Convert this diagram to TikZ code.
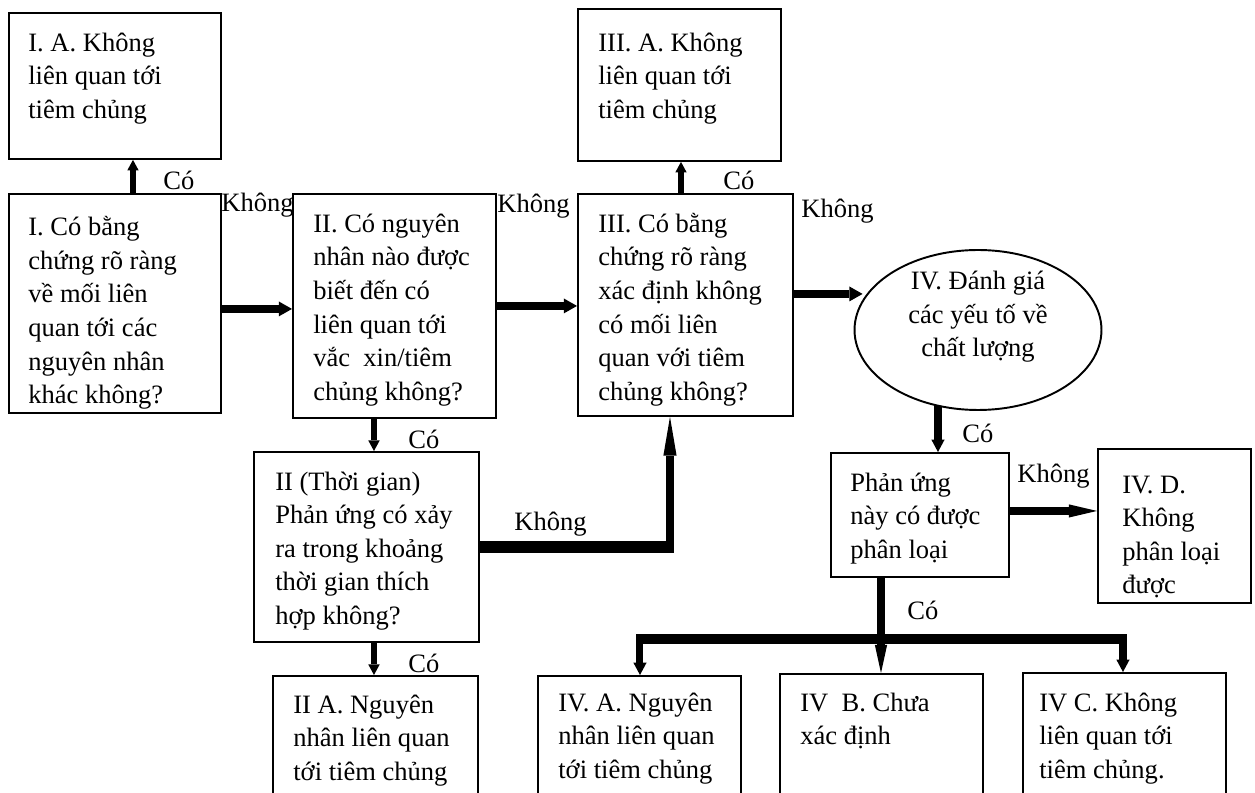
\documentclass[tikz,border=0pt]{standalone}
\usepackage{fontspec}
\setmainfont{Liberation Serif}
\usetikzlibrary{arrows.meta,shapes.geometric}
\newcommand\diagfont{\fontsize{15.1pt}{19.1pt}\selectfont}
\begin{document}
\begin{tikzpicture}[x=0.02cm,y=-0.02cm,
  box/.style={draw, line width=1.1pt, rectangle, inner sep=0pt, anchor=north west},
  oval/.style={draw, line width=1.1pt, ellipse, inner sep=0pt},
  txt/.style={inner sep=0pt, anchor=north west, align=left, font=\diagfont},
  lbl/.style={inner sep=0pt, anchor=base west, font=\diagfont},
  arrs/.style={line width=3.4pt, -{Triangle[length=6pt,width=6.5pt,line width=0pt]}},
  arr/.style={line width=4.5pt, -{Triangle[length=7.5pt,width=8.5pt,line width=0pt]}},
  arrm/.style={line width=4pt, -{Triangle[length=7pt,width=7.5pt,line width=0pt]}},
  arrw/.style={line width=4pt, -{Triangle[length=22pt,width=7.5pt,line width=0pt]}},
  arrl/.style={line width=4.5pt, -{Triangle[length=16pt,width=7.5pt,line width=0pt]}},
  arrv/.style={line width=4pt, -{Triangle[length=16pt,width=7pt,line width=0pt]}},
  arrb/.style={line width=4pt, -{Triangle[length=7pt,width=7.5pt,line width=0pt]}},
  bar/.style={line width=5.5pt},
  barv/.style={line width=4pt},
  wbar/.style={line width=6.5pt}]
\clip (0,0) rectangle (1255,793);
% boxes
\node[box, minimum width=4.24cm, minimum height=2.92cm] (ia) at (8,12) {};
\node[txt] (iat) at ([shift={(20,15.2)}]ia.north west) {\strut I. A. Không\\liên quan tới\\tiêm chủng};
\node[box, minimum width=4.24cm, minimum height=4.38cm] (i) at (8,193) {};
\node[txt] (it) at ([shift={(20,19)}]i.north west) {\strut I. Có bằng\\chứng rõ ràng\\về mối liên\\quan tới các\\nguyên nhân\\khác không?};
\node[box, minimum width=4.06cm, minimum height=4.48cm] (ii) at (292,193) {};
\node[txt] (iit) at ([shift={(21,15.5)}]ii.north west) {\strut II. Có nguyên\\nhân nào được\\biết đến có\\liên quan tới\\vắc~ xin/tiêm\\chủng không?};
\node[box, minimum width=4.06cm, minimum height=3.04cm] (iiia) at (577,8) {};
\node[txt] (iiiat) at ([shift={(21,19.2)}]iiia.north west) {\strut III. A. Không\\liên quan tới\\tiêm chủng};
\node[box, minimum width=4.30cm, minimum height=4.44cm] (iii) at (577,193) {};
\node[txt] (iiit) at ([shift={(21,15.5)}]iii.north west) {\strut III. Có bằng\\chứng rõ ràng\\xác định không\\có mối liên\\quan với tiêm\\chủng không?};
\node[oval, minimum width=4.94cm, minimum height=3.2cm] (iv) at (978,330) {};
\node[inner sep=0pt, align=center, font=\diagfont] (ivt) at ([yshift=0.26cm]iv.center) {IV. Đánh giá\\các yếu tố về\\chất lượng};
\node[box, minimum width=3.56cm, minimum height=2.48cm] (pu) at (830,452) {};
\node[txt] (put) at ([shift={(20,15.2)}]pu.north west) {\strut Phản ứng\\này có được\\phân loại};
\node[box, minimum width=3.06cm, minimum height=3.08cm] (ivd) at (1097,448) {};
\node[txt] (ivdt) at ([shift={(25,21.2)}]ivd.north west) {\strut IV. D.\\Không\\phân loại\\được};
\node[box, minimum width=4.50cm, minimum height=3.80cm] (tg) at (253,451) {};
\node[txt] (tgt) at ([shift={(22,15.2)}]tg.north west) {\strut II (Thời gian)\\Phản ứng có xảy\\ra trong khoảng\\thời gian thích\\hợp không?};
\node[box, minimum width=4.10cm, minimum height=2.8cm] (iia) at (272,675) {};
\node[txt] (iiat) at ([shift={(21,14.2)}]iia.north west) {\strut II A. Nguyên\\nhân liên quan\\tới tiêm chủng};
\node[box, minimum width=4.06cm, minimum height=2.8cm] (iva) at (537,675) {};
\node[txt] (ivat) at ([shift={(21,12.2)}]iva.north west) {\strut IV. A. Nguyên\\nhân liên quan\\tới tiêm chủng};
\node[box, minimum width=4.06cm, minimum height=2.84cm] (ivb) at (779,673) {};
\node[txt] (ivbt) at ([shift={(21,14.2)}]ivb.north west) {\strut IV~ B. Chưa\\xác định};
\node[box, minimum width=4.06cm, minimum height=2.86cm] (ivc) at (1022,672) {};
\node[txt] (ivct) at ([shift={(17,15.2)}]ivc.north west) {\strut IV C. Không\\liên quan tới\\tiêm chủng.};
% connectors
\coordinate (p0) at ([xshift=2.5cm]i.north west);
\draw[arrs] (p0) -- (p0 |- ia.south);
\coordinate (p1) at ([yshift=-0.11cm]i.east);
\draw[arr] (p1) -- (p1 -| ii.west);
\draw[arr] (ii.east) -- (ii.east -| iii.west);
\coordinate (p3) at ([xshift=2.08cm]iii.north west);
\draw[arrs] (p3) -- (p3 |- iiia.south);
\coordinate (p4) at ([yshift=0.22cm]iii.east);
\coordinate (p4e) at ([xshift=0.18cm]iv.west);
\draw[arr] (p4) -- (p4 -| p4e);
\coordinate (p5) at ([xshift=2.16cm]pu.north west);
\coordinate (p5s) at ([yshift=0.1cm]iv.south);
\draw[arrm] (p5 |- p5s) -- (p5);
\coordinate (p6) at ([yshift=0.08cm]pu.east);
\draw[arrl] (p6) -- (p6 -| ivd.west);
\coordinate (p7) at ([xshift=1.64cm]ii.south west);
\draw[arrs] (p7) -- (p7 |- tg.north);
\coordinate (p8) at ([xshift=2.42cm]tg.south west);
\draw[arrs] (p8) -- (p8 |- iia.north);
\coordinate (p9) at ([xshift=1.86cm]iii.south west);
\coordinate (pc) at (p9 |- tg.east);
\draw[wbar] (tg.east) -- ([xshift=2pt]pc);
\draw[arrw] ([yshift=-3pt]pc) -- (p9);
\coordinate (p10) at ([xshift=1.02cm]pu.south west);
\coordinate (j) at ([yshift=-1.22cm]p10);
\coordinate (qa) at ([xshift=2.06cm]iva.north west);
\coordinate (qc) at ([xshift=2.02cm]ivc.north west);
\draw[barv] (p10) -- (j);
\draw[bar] ([xshift=-2pt]qa |- j) -- ([xshift=2pt]qc |- j);
\draw[arrb] (qa |- j) -- (qa);
\draw[arrb] (qc |- j) -- (qc);
\draw[arrv] (j) -- (j |- ivb.north);
% labels
\node[lbl] (l1) at (163,190) {Có};
\node[lbl] (l2) at (221,212) {Không};
\node[lbl] (l3) at (497,213) {Không};
\node[lbl] (l4) at (723,190) {Có};
\node[lbl] (l5) at (801,218) {Không};
\node[lbl] (l6) at (962,443) {Có};
\node[lbl] (l7) at (1017,483) {Không};
\node[lbl] (l8) at (408,449) {Có};
\node[lbl] (l9) at (514,531) {Không};
\node[lbl] (l10) at (408,673) {Có};
\node[lbl] (l11) at (907,620) {Có};
\end{tikzpicture}
\end{document}
